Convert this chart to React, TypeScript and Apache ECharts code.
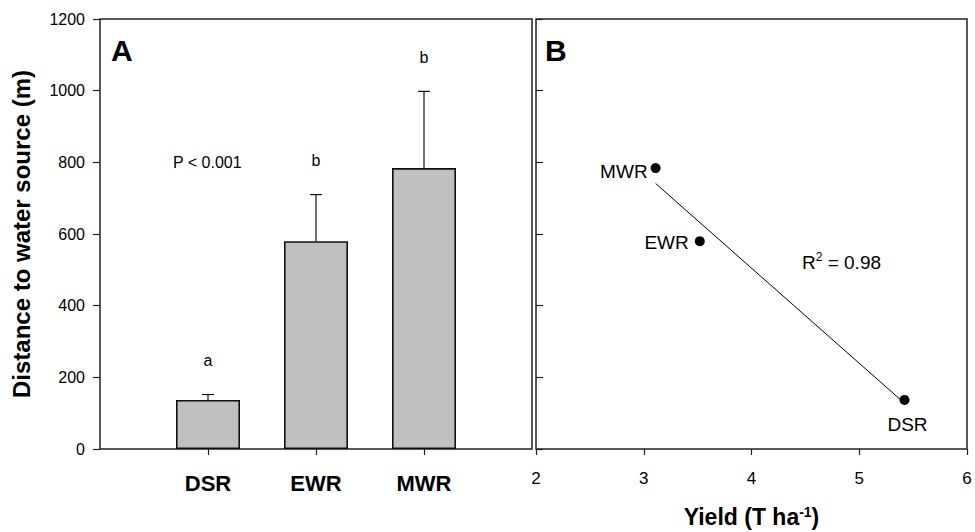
import React, { useEffect, useRef } from 'react';
import * as echarts from 'echarts';

const FONT = '"Liberation Sans", Arial, Helvetica, sans-serif';

// Rice establishment systems and their mean distance to a water source (m)
const treatments = ['DSR', 'EWR', 'MWR'];
const distanceMean = [137, 580, 784];
const distanceError = [15, 130, 214];
const groupLetters = ['a', 'b', 'b'];
// Mean grain yield (T ha-1) of the same systems
const grainYield = [5.42, 3.52, 3.11];
const pValueLabel = 'P < 0.001';
const distanceAxis = { min: 0, max: 1200, step: 200 };
const yieldAxis = { min: 2, max: 6, step: 1 };

// Ordinary least-squares fit of distance on yield
function fitLine(xs: number[], ys: number[]) {
  const n = xs.length;
  const mx = xs.reduce((a, b) => a + b, 0) / n;
  const my = ys.reduce((a, b) => a + b, 0) / n;
  let sxy = 0;
  let sxx = 0;
  let syy = 0;
  for (let i = 0; i < n; i++) {
    sxy += (xs[i] - mx) * (ys[i] - my);
    sxx += (xs[i] - mx) ** 2;
    syy += (ys[i] - my) ** 2;
  }
  const slope = sxy / sxx;
  const intercept = my - slope * mx;
  const r2 = (sxy * sxy) / (sxx * syy);
  return { slope, intercept, r2 };
}

export default function App() {
  const ref = useRef<HTMLDivElement>(null);

  useEffect(() => {
    if (!ref.current) return;
    const chart = echarts.init(ref.current, undefined, { renderer: 'svg' });

    const fit = fitLine(grainYield, distanceMean);
    const xLo = Math.min(...grainYield);
    const xHi = Math.max(...grainYield);
    const fitData = [
      [xLo, fit.intercept + fit.slope * xLo],
      [xHi, fit.intercept + fit.slope * xHi],
    ];

    const pointLabelText = { fontFamily: FONT, fontSize: 19, color: '#000' };
    const pointLabels: Record<string, any> = {
      MWR: { position: 'left', distance: 3, offset: [0, 3], ...pointLabelText },
      EWR: { position: 'left', distance: 6, offset: [0, 1], ...pointLabelText },
      DSR: { position: 'bottom', distance: 10, offset: [3, 0], ...pointLabelText },
    };

    const tickStyle = { color: '#222', width: 1.2 };
    const frame = {
      show: true,
      borderColor: '#222',
      borderWidth: 1.5,
      backgroundColor: 'transparent',
      outerBoundsMode: 'none',
      containLabel: false,
    };

    chart.setOption({
      animation: false,
      backgroundColor: '#fff',
      textStyle: { fontFamily: FONT },
      grid: [
        { left: 100, top: 19, width: 432, height: 430, ...frame },
        { left: 536, top: 19, width: 431, height: 430, ...frame },
      ],
      xAxis: [
        {
          gridIndex: 0,
          type: 'category',
          data: ['', ...treatments, ''],
          boundaryGap: false,
          axisLine: { show: false },
          axisTick: {
            show: true,
            inside: false,
            length: 6,
            interval: (i: number) => i >= 1 && i <= treatments.length,
            lineStyle: tickStyle,
          },
          axisLabel: {
            interval: 0,
            margin: 23,
            fontFamily: FONT,
            fontSize: 22,
            fontWeight: 'bold',
            color: '#000',
          },
          splitLine: { show: false },
        },
        {
          gridIndex: 1,
          type: 'value',
          min: yieldAxis.min,
          max: yieldAxis.max,
          interval: yieldAxis.step,
          axisLine: { show: false },
          axisTick: { show: true, inside: false, length: 6, lineStyle: tickStyle },
          axisLabel: { margin: 21, fontFamily: FONT, fontSize: 17, color: '#000' },
          splitLine: { show: false },
          name: '{t|Yield (T ha}{s|-1}{t|)}',
          nameLocation: 'middle',
          nameGap: 56,
          nameTextStyle: {
            rich: {
              t: {
                fontFamily: FONT,
                fontSize: 23,
                lineHeight: 24,
                fontWeight: 'bold',
                color: '#000',
              },
              s: {
                fontFamily: FONT,
                fontSize: 14,
                lineHeight: 13,
                fontWeight: 'bold',
                color: '#000',
                verticalAlign: 'top',
              },
            },
          },
        },
      ],
      yAxis: [
        {
          gridIndex: 0,
          type: 'value',
          min: distanceAxis.min,
          max: distanceAxis.max,
          interval: distanceAxis.step,
          axisLine: { show: false },
          axisTick: { show: true, inside: false, length: 7, lineStyle: tickStyle },
          axisLabel: {
            margin: 15,
            fontFamily: FONT,
            fontSize: 16,
            color: '#000',
            formatter: (v: number) => String(v),
          },
          splitLine: { show: false },
          name: 'Distance to water source (m)',
          nameLocation: 'middle',
          nameGap: 67,
          nameTextStyle: { fontFamily: FONT, fontSize: 24, fontWeight: 'bold', color: '#000' },
        },
        {
          gridIndex: 1,
          type: 'value',
          min: distanceAxis.min,
          max: distanceAxis.max,
          interval: distanceAxis.step,
          axisLine: { show: false },
          axisTick: { show: true, inside: true, length: 7, lineStyle: tickStyle },
          axisLabel: { show: false },
          splitLine: { show: false },
        },
      ],
      series: [
        {
          type: 'bar',
          xAxisIndex: 0,
          yAxisIndex: 0,
          data: ['-', ...distanceMean, '-'],
          barWidth: 64,
          itemStyle: { color: '#c0c0c0', borderColor: '#111', borderWidth: 1.6 },
          z: 2,
        },
        {
          // upper error bars with significance letters above them
          type: 'custom',
          xAxisIndex: 0,
          yAxisIndex: 0,
          z: 3,
          data: treatments.map((_, i) => [i + 1, distanceMean[i], distanceMean[i] + distanceError[i], i]),
          renderItem: (_params: any, api: any) => {
            const xi = api.value(0);
            const base = api.coord([xi, api.value(1)]);
            const top = api.coord([xi, api.value(2)]);
            const idx = api.value(3);
            const half = 6;
            return {
              type: 'group',
              children: [
                {
                  type: 'line',
                  shape: { x1: base[0], y1: base[1], x2: top[0], y2: top[1] },
                  style: { stroke: '#111', lineWidth: 1.2 },
                },
                {
                  type: 'line',
                  shape: { x1: top[0] - half, y1: top[1], x2: top[0] + half, y2: top[1] },
                  style: { stroke: '#111', lineWidth: 1.2 },
                },
                {
                  type: 'text',
                  x: top[0],
                  y: top[1] - 34,
                  style: {
                    text: groupLetters[idx],
                    font: `16px ${FONT}`,
                    fill: '#000',
                    align: 'center',
                    verticalAlign: 'middle',
                    textAlign: 'center',
                    textVerticalAlign: 'middle',
                  },
                },
              ],
            };
          },
        },
        {
          type: 'line',
          xAxisIndex: 1,
          yAxisIndex: 1,
          data: fitData,
          symbol: 'none',
          lineStyle: { color: '#000', width: 1 },
          z: 2,
        },
        {
          type: 'scatter',
          xAxisIndex: 1,
          yAxisIndex: 1,
          symbolSize: 10,
          itemStyle: { color: '#000', opacity: 1 },
          z: 3,
          label: { show: true, formatter: '{b}', ...pointLabelText },
          data: treatments.map((t, i) => ({
            name: t,
            value: [grainYield[i], distanceMean[i]],
            label: pointLabels[t],
          })),
        },
      ],
      graphic: [
        {
          type: 'text',
          x: 111,
          y: 50,
          style: {
            text: 'A',
            font: `bold 30px ${FONT}`,
            fill: '#000',
            align: 'left',
            verticalAlign: 'middle',
          },
        },
        {
          type: 'text',
          x: 545,
          y: 50,
          style: {
            text: 'B',
            font: `bold 30px ${FONT}`,
            fill: '#000',
            align: 'left',
            verticalAlign: 'middle',
          },
        },
        {
          type: 'text',
          x: 173,
          y: 162,
          style: {
            text: pValueLabel,
            font: `16px ${FONT}`,
            fill: '#000',
            align: 'left',
            verticalAlign: 'middle',
          },
        },
        {
          type: 'text',
          x: 802,
          y: 262,
          style: {
            text: `{n|R}{s|2}{n| = ${fit.r2.toFixed(2)}}`,
            align: 'left',
            verticalAlign: 'middle',
            rich: {
              n: { fontFamily: FONT, fontSize: 19, fill: '#000', color: '#000' },
              s: {
                fontFamily: FONT,
                fontSize: 12,
                fill: '#000',
                color: '#000',
                padding: [0, 0, 10, 0],
              },
            },
          },
        },
      ],
    });

    return () => chart.dispose();
  }, []);

  return (
    <div
      ref={ref}
      style={{ position: 'fixed', left: 0, top: 0, width: 975, height: 532 }}
    />
  );
}
